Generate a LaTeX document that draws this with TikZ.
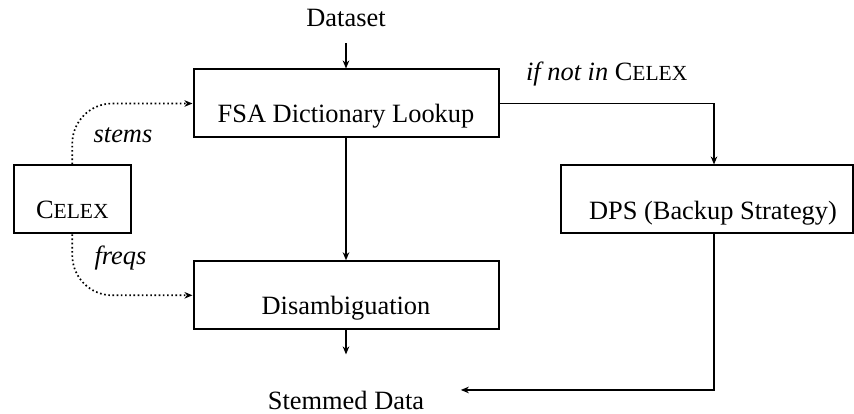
\documentclass[tikz,border=0pt]{standalone}
\usepackage{fontspec}
\setmainfont{Liberation Serif}[ItalicFont={Liberation Serif Italic}]
\usetikzlibrary{arrows.meta}
\newcommand{\celexsc}{C{\fontsize{21.5}{24}\selectfont ELEX}}
\begin{document}
\begin{tikzpicture}[x=1pt,y=-1pt,
  font=\fontsize{26.4}{30}\selectfont,
  arr/.style={-{Stealth[length=8pt,width=6.5pt,inset=2.5pt]}, line width=1.7pt},
  dotarr/.style={-{Stealth[length=8pt,width=6.5pt,inset=2.5pt]}, line width=1.7pt, dash pattern=on 1.6pt off 2.6pt, rounded corners=40pt},
  procbox/.style={draw, line width=2pt, inner xsep=0pt, inner ysep=0pt, text height=53.5pt, text depth=14.5pt},
  plain/.style={anchor=base, inner sep=3.33pt}]
\useasboundingbox (0,0) rectangle (854,414);

\node[plain] (dataset) at (346,26.7) {Dataset};
\node[procbox, minimum width=305pt] (fsa) at (346,103.5) {FSA Dictionary Lookup};
\node[procbox, minimum width=305pt] (dis) at (346,295.3) {Disambiguation};
\node[procbox, minimum width=292pt] (dps) at (707,199.5) {\hspace*{12pt}DPS (Backup Strategy)};
\node[procbox, minimum width=117pt] (celex) at (72.3,199.3) {\celexsc};
\node[plain] (stemmed) at (346,409.8) {Stemmed Data};

\node[plain, font=\fontsize{26.4}{30}\selectfont\itshape] (stems) at (123,142.7) {stems};
\node[plain, font=\fontsize{26.4}{30}\selectfont\itshape] (freqs) at (120.5,264.3) {freqs};

\draw[arr, shorten <=12.7pt] (dataset) -- (fsa);
\draw[arr] (fsa) -- (dis);
\draw[arr, shorten >=33.5pt] (dis) -- (stemmed);
\draw[arr] (fsa.east) -| node[pos=0.25, anchor=base, yshift=22.5pt] (cond) {\textit{if not in} \celexsc} ([xshift=7pt]dps.north);
\draw[arr, shorten >=33.2pt] ([xshift=7pt]dps.south) |- ([yshift=10.8pt]stemmed.east);
\draw[dotarr] (celex.north) |- (fsa.west);
\draw[dotarr] (celex.south) |- (dis.west);
\end{tikzpicture}
\end{document}
